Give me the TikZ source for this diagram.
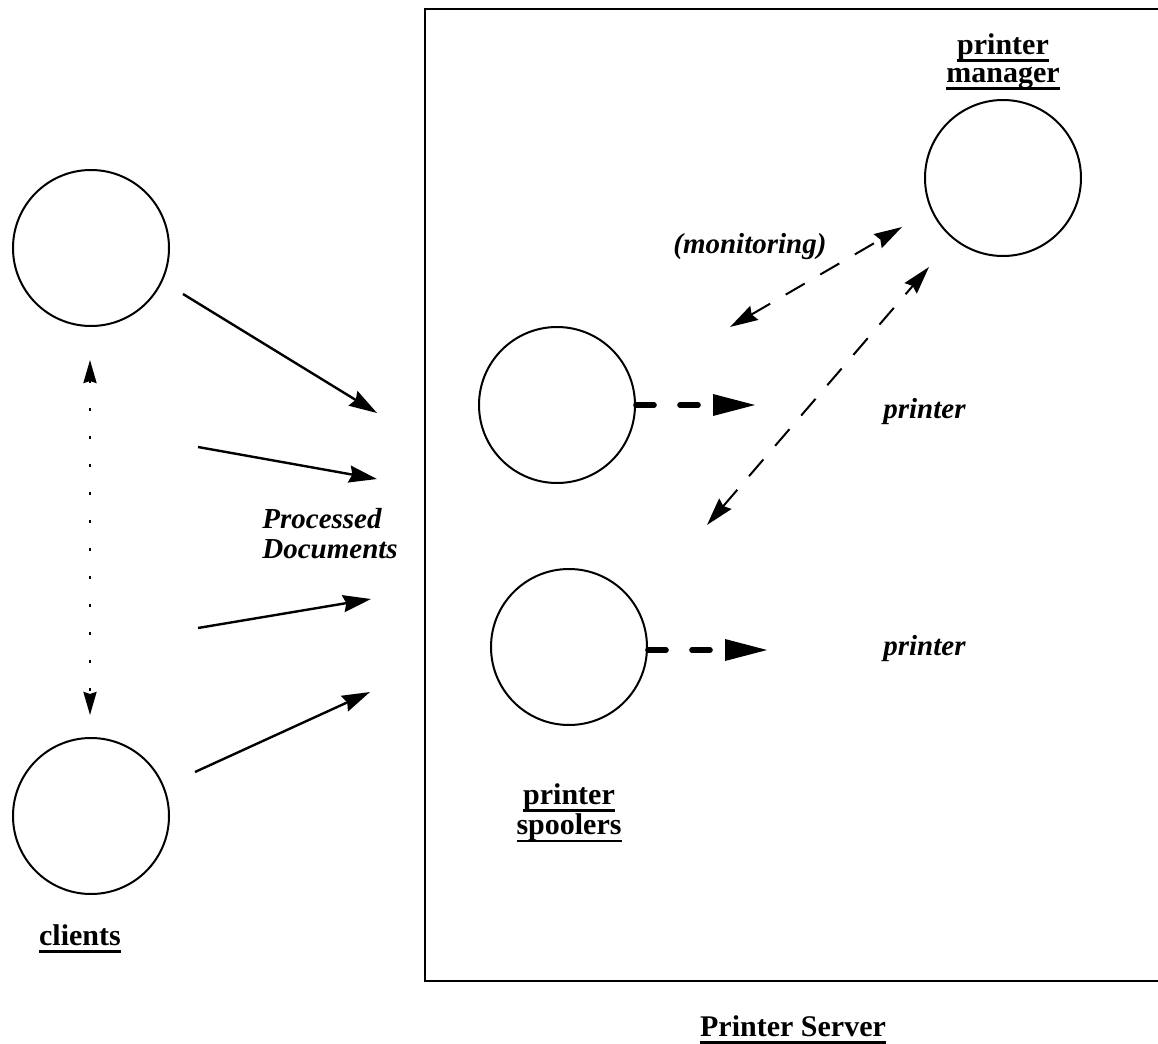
\documentclass[tikz,border=0pt]{standalone}
\usepackage{fontspec}
\setmainfont{Liberation Serif}
\usetikzlibrary{arrows.meta}
\newcommand\myul[1]{\leavevmode\setbox0\hbox{#1}\hbox to \wd0{\rlap{\rule[-3.8pt]{\wd0}{1.4pt}}\box0}}
\begin{document}
\begin{tikzpicture}[x=0.5pt,y=-0.5pt,
  proc/.style={circle,draw,line width=1pt,minimum size=78pt,inner sep=0pt},
  boldlbl/.style={font=\fontsize{15}{14}\selectfont\bfseries,align=center,inner sep=0pt},
  itallbl/.style={font=\fontsize{14.5}{15.5}\selectfont\bfseries\itshape,inner sep=0pt},
  flow/.style={line width=1.2pt,-{Stealth[length=14pt,width=8.5pt,inset=1.5pt]}},
  peer/.style={line width=1.2pt,dash pattern=on 1.3pt off 12.7pt,{Stealth[length=11.5pt,width=6.5pt,inset=1pt]}-{Stealth[length=11.5pt,width=6.5pt,inset=1pt]}},
  monitor/.style={line width=1pt,dash pattern=on 11pt off 9pt,{Stealth[length=14pt,width=8pt,inset=1.5pt]}-{Stealth[length=14pt,width=8pt,inset=1.5pt]}},
  output/.style={line width=2.8pt,line cap=round,dash pattern=on 9pt off 13pt,-{Triangle[length=21pt,width=11pt,sharp,line width=0pt]}}
]
\useasboundingbox (0,0) rectangle (1158,1044);
% server box
\draw[line width=1.4pt] (425,9) rectangle (1166,981);
% circles
\node[proc] (c1) at (91,248) {};
\node[proc] (c2) at (91,816) {};
\node[proc] (sp1) at (557,405) {};
\node[proc] (sp2) at (569,647) {};
\node[proc] (mgr) at (1003,178) {};
% labels
\node[boldlbl,anchor=base] (lclients) at (80,945) {\myul{clients}};
\node[boldlbl] (lspool) at (569,813) {\myul{printer}\\\myul{spoolers}};
\node[boldlbl] (lmgr) at (1003,62) {\myul{printer}\\\myul{manager}};
\node[boldlbl,anchor=base] (lserver) at (793,1036) {\myul{Printer Server}};
\node[itallbl,anchor=base west] (lproc) at (262,528) {Processed};
\node[itallbl,anchor=base west] (ldocs) at (262,558) {Documents};
\node[itallbl,anchor=base west] (lmon) at (673,253) {(monitoring)};
\node[itallbl,anchor=base west] (lpr1) at (883,418) {printer};
\node[itallbl,anchor=base west] (lpr2) at (883,655) {printer};
% arrow end points
\coordinate (a1s) at (183,294); \coordinate (a1e) at (377,413);
\coordinate (a2s) at (198,447); \coordinate (a2e) at (377,479);
\coordinate (a3s) at (198,628); \coordinate (a3e) at (371,599);
\coordinate (a4s) at (195,772); \coordinate (a4e) at (370,692);
\coordinate (pt) at (90,360); \coordinate (pb) at (90,715);
\coordinate (m1a) at (902,227); \coordinate (m1b) at (730,327);
\coordinate (m2a) at (929,267); \coordinate (m2b) at (707,525);
\coordinate (o1) at (755,405); \coordinate (o2) at (767,650);
% connectors
\draw[flow] (a1s) -- (a1e);
\draw[flow] (a2s) -- (a2e);
\draw[flow] (a3s) -- (a3e);
\draw[flow] (a4s) -- (a4e);
\draw[peer] (pt) -- (pb);
\draw[monitor] (m1b) -- (m1a);
\draw[monitor] (m2b) -- (m2a);
\draw[output] (sp1.east) -- (o1);
\draw[output] (sp2.east |- o2) -- (o2);
\end{tikzpicture}
\end{document}
